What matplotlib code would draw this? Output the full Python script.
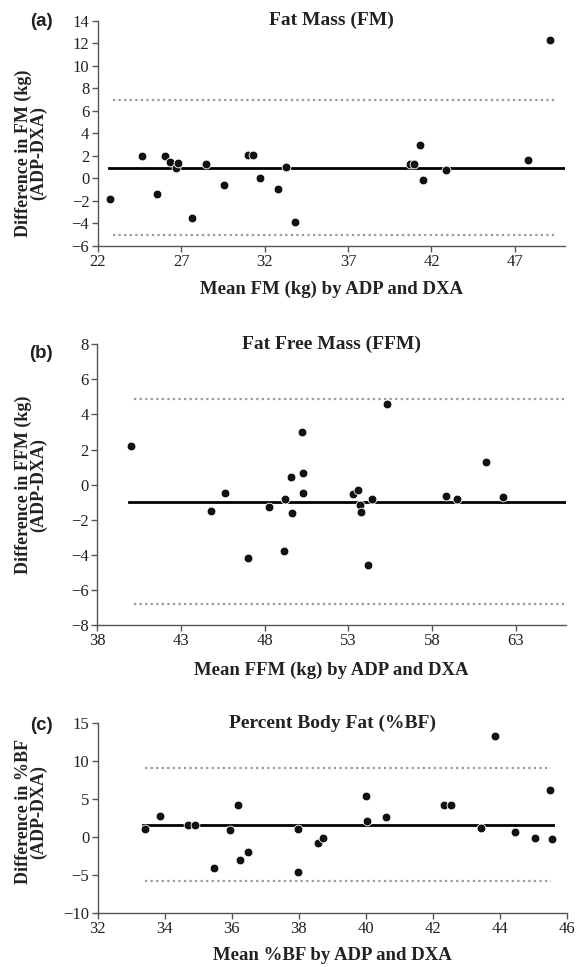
import matplotlib
matplotlib.use('Agg')
import matplotlib.pyplot as plt
import numpy as np

# ---- data ----
# (a) Fat mass
fm_mean = [22.74, 24.63, 25.55, 26.01, 26.33, 26.67, 26.81, 27.65, 28.49, 29.58, 30.98, 31.30,
           31.74, 32.82, 33.26, 33.84, 40.72, 40.98, 41.34, 41.48, 42.88, 47.77, 49.13]
fm_diff = [-1.85, 2.02, -1.35, 1.96, 1.43, 0.90, 1.37, -3.51, 1.31, -0.55, 2.08, 2.05,
           0.07, -0.97, 1.04, -3.90, 1.31, 1.31, 3.00, -0.17, 0.75, 1.64, 12.31]
fm_bias = 0.96
fm_loa = [-4.99, 6.93]

# (b) Fat free mass
ffm_mean = [39.99, 44.79, 45.63, 47.01, 48.28, 49.16, 49.22, 49.56, 49.62, 50.23, 50.29, 50.31,
            53.26, 53.60, 53.68, 53.76, 54.18, 54.42, 55.33, 58.82, 59.51, 61.25, 62.25]
ffm_diff = [2.18, -1.51, -0.48, -4.17, -1.28, -3.79, -0.84, 0.45, -1.64, 3.02, 0.68, -0.50,
            -0.52, -0.29, -1.14, -1.56, -4.60, -0.82, 4.58, -0.63, -0.84, 1.27, -0.73]
ffm_bias = -0.97
ffm_loa = [-6.81, 4.86]

# (c) Percent body fat
bf_mean = [33.40, 33.86, 34.68, 34.90, 35.46, 35.93, 36.18, 36.25, 36.47, 37.96, 37.98, 38.57,
           38.71, 40.01, 40.03, 40.60, 42.33, 42.52, 43.42, 43.83, 44.43, 45.05, 45.49, 45.55]
bf_diff = [1.00, 2.76, 1.58, 1.58, -4.06, 0.87, 4.17, -3.09, -1.99, 1.09, -4.59, -0.80,
           -0.14, 5.40, 2.06, 2.63, 4.26, 4.22, 1.22, 13.37, 0.65, -0.10, 6.15, -0.32]
bf_bias = 1.64
bf_loa = [-5.82, 9.06]

W, H = 576, 967
fig = plt.figure(figsize=(W / 100, H / 100), dpi=100)

serif = 'Liberation Serif'
axis_col = '#555555'
text_col = '#222222'


def fx(px):
    return px / W


def fy(py):
    return 1 - py / H


panels = [
    dict(box=(97.7, 20.7, 565, 246), x=fm_mean, y=fm_diff, bias=fm_bias, loa=fm_loa,
         xlim=(22, 50), xt=np.arange(22, 48, 5), ylim=(-6, 14), yt=np.arange(-6, 15, 2),
         bias_x=(22.68, 50), loa_x=(22.94, 49.5),
         title='Fat Mass (FM)', xlabel='Mean FM (kg) by ADP and DXA', xlab_y=289,
         ylab='Difference in FM (kg)\n(ADP-DXA)', ylab_y=153, letter='(a)', let_y=22),
    dict(box=(97.3, 344.3, 566, 625), x=ffm_mean, y=ffm_diff, bias=ffm_bias, loa=ffm_loa,
         xlim=(38, 66), xt=np.arange(38, 64, 5), ylim=(-8, 8), yt=np.arange(-8, 9, 2),
         bias_x=(39.92, 66), loa_x=(40.2, 66),
         title='Fat Free Mass (FFM)', xlabel='Mean FFM (kg) by ADP and DXA', xlab_y=670,
         ylab='Difference in FFM (kg)\n(ADP-DXA)', ylab_y=485, letter='(b)', let_y=353),
    dict(box=(97.7, 723.3, 567.3, 912.7), x=bf_mean, y=bf_diff, bias=bf_bias, loa=bf_loa,
         xlim=(32, 46), xt=np.arange(32, 47, 2), ylim=(-10, 15), yt=np.arange(-10, 16, 5),
         bias_x=(33.36, 45.58), loa_x=(33.4, 45.5),
         title='Percent Body Fat (%BF)', xlabel='Mean %BF by ADP and DXA', xlab_y=955,
         ylab='Difference in %BF\n(ADP-DXA)', ylab_y=812, letter='(c)', let_y=726),
]

for p in panels:
    l, t, r, b = p['box']
    ax = fig.add_axes([fx(l), fy(b), (r - l) / W, (b - t) / H])
    ax.set_xlim(*p['xlim'])
    ax.set_ylim(*p['ylim'])
    ax.set_xticks(p['xt'])
    ax.set_yticks(p['yt'])
    for s in ['top', 'right']:
        ax.spines[s].set_visible(False)
    for s in ['left', 'bottom']:
        ax.spines[s].set_color(axis_col)
        ax.spines[s].set_linewidth(1.0)
    ax.tick_params(direction='out', length=4, width=1, color=axis_col,
                   labelsize=12, labelcolor=text_col, pad=2)
    for lab in ax.get_xticklabels() + ax.get_yticklabels():
        lab.set_family(serif)

    # limits of agreement (dotted) and mean bias (solid)
    for v in p['loa']:
        ax.plot(p['loa_x'], [v, v], color='#999999', lw=1.6, ls=(0, (1, 1.5)), zorder=1)
    ax.plot(p['bias_x'], [p['bias']] * 2, color='black', lw=2.0, zorder=2)
    ax.scatter(p['x'], p['y'], s=40, color='#111111', edgecolors='white', linewidths=0.6,
               zorder=3, clip_on=False)

    ax.text(0.5, 1.0, p['title'], transform=ax.transAxes, ha='center', va='center',
            fontsize=14, fontweight='bold', family=serif, color=text_col)
    fig.text(fx((l + r) / 2), fy(p['xlab_y']), p['xlabel'], ha='center', va='center',
             fontsize=13.5, fontweight='bold', family=serif, color=text_col)
    fig.text(fx(31), fy(p['ylab_y']), p['ylab'], rotation=90, ha='center', va='center',
             multialignment='center', linespacing=0.85,
             fontsize=13, fontweight='bold', family=serif, color=text_col)
    fig.text(fx(41), fy(p['let_y']), p['letter'], ha='center', va='center',
             fontsize=13.5, fontweight='bold', family='Liberation Sans', color=text_col)

fig.savefig('out.png', dpi=100)
